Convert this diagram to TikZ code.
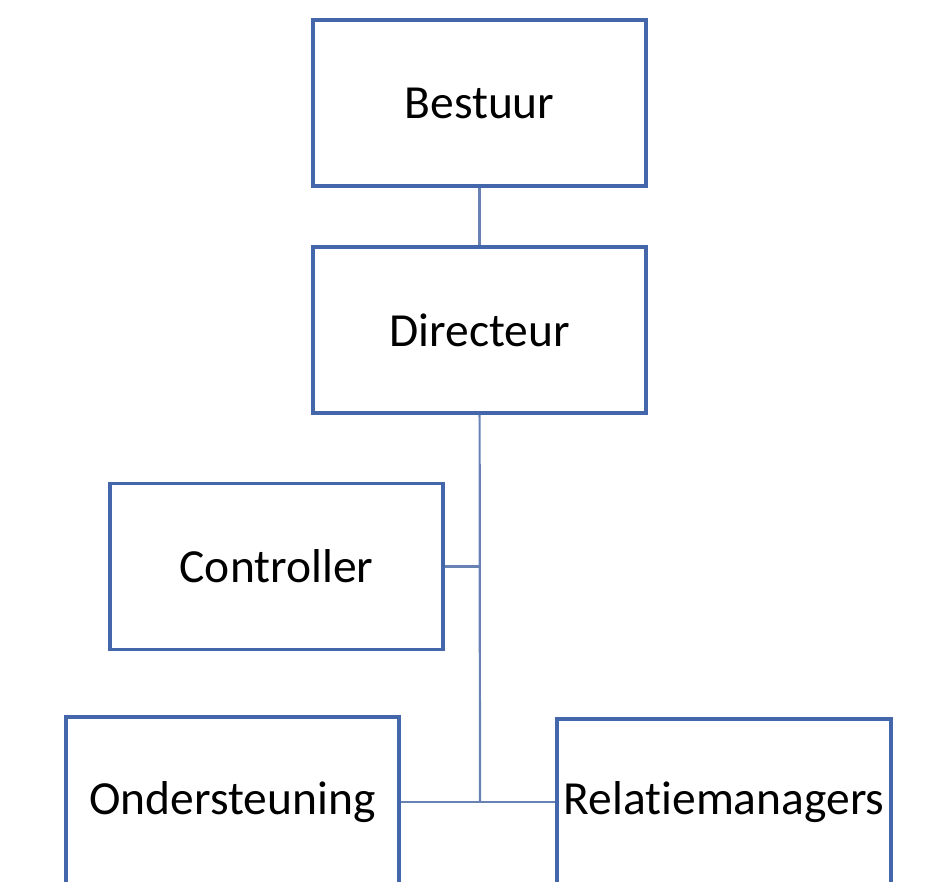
\documentclass[tikz,border=0pt]{standalone}
\usepackage{fontspec}
\setmainfont{Carlito}[Ligatures=NoCommon]
\definecolor{boxblue}{RGB}{68,102,170}
\definecolor{lineblue}{RGB}{105,130,180}

\begin{document}
\begin{tikzpicture}[
        x=1pt, y=-1pt,
        unit/.style={rectangle, draw=boxblue, line width=3.6pt, fill=white, minimum width=333pt, minimum height=166pt, inner sep=0pt, font=\fontsize{47.5}{57}\selectfont},
        link/.style={draw=lineblue, line width=2.2pt}
    ]
        \clip (0,0) rectangle (925,882);
        \useasboundingbox (0,0) rectangle (925,882);

        % Top of the chart
        \node[unit] (bestuur) at (479.5, 103) {Bestuur};
        \node[unit] (directeur) at (479.5, 330) {Directeur};

        % Staff position
        \node[unit] (controller) at (276.5, 566.5) {Controller};

        % Bottom row
        \node[unit, minimum height=170pt] (ondersteuning) at (232.5, 802) {Ondersteuning};
        \node[unit, minimum width=334pt] (relatiemanagers) at (724, 802) {Relatiemanagers};

        % Junction of the lower row
        \coordinate (hub) at (480, 802);

        % Connections
        \draw[link] (bestuur) -- (directeur);
        \draw[link] (directeur) -- (hub);
        \draw[link] (controller.east) -- (controller.east -| hub);
        \draw[link] (ondersteuning.east) -- (hub) -- (relatiemanagers.west);

    \end{tikzpicture}
\end{document}
